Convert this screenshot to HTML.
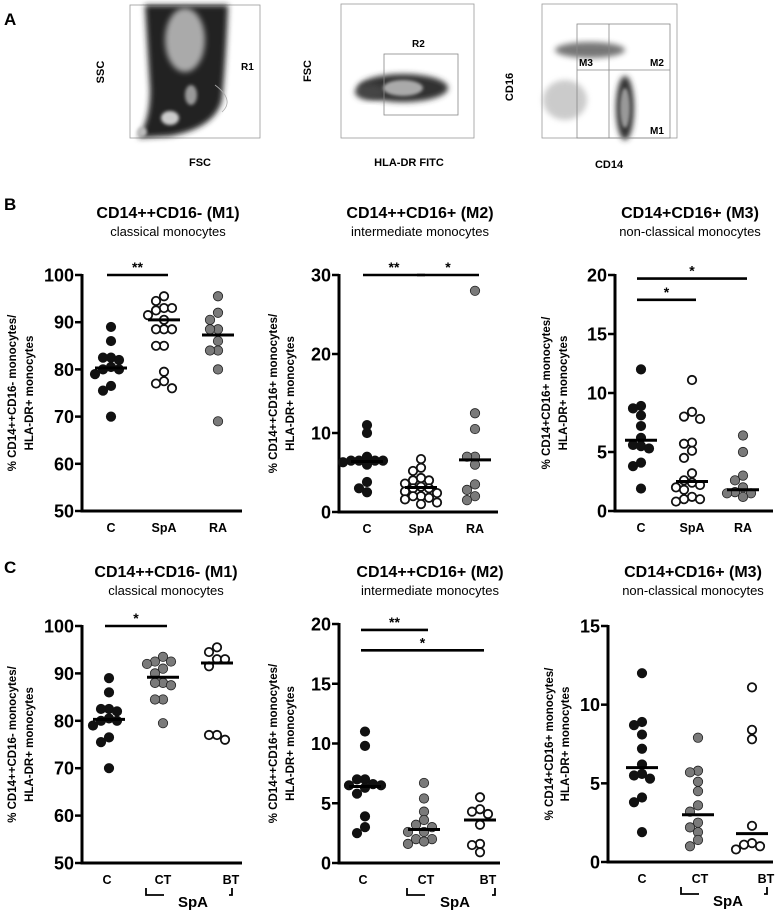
<!DOCTYPE html>
<html><head><meta charset="utf-8"><style>
html,body{margin:0;padding:0;background:#fff;}
svg{display:block;font-family:"Liberation Sans",Arial,sans-serif;}
</style></head><body>
<svg id="fig" width="778" height="910" viewBox="0 0 778 910" xmlns="http://www.w3.org/2000/svg">
<defs>
<filter id="bl" x="-30%" y="-30%" width="160%" height="160%"><feGaussianBlur stdDeviation="3"/></filter>
<filter id="bl2" x="-30%" y="-30%" width="160%" height="160%"><feGaussianBlur stdDeviation="1.5"/></filter>
</defs>
<g>
<text x="4" y="25" font-size="17" font-weight="bold">A</text>
<g>
<rect x="130" y="5" width="130" height="133" fill="none" stroke="#999" stroke-width="0.8"/>
<path d="M138 138 Q150 120 150 90 L145 5 L228 5 Q226 60 222 100 Q215 128 170 136 Z" fill="#222" filter="url(#bl)"/>
<ellipse cx="185" cy="40" rx="20" ry="32" fill="#aaa" filter="url(#bl)"/>
<ellipse cx="170" cy="118" rx="9" ry="7" fill="#ccc" filter="url(#bl2)"/>
<ellipse cx="191" cy="95" rx="6" ry="10" fill="#999" filter="url(#bl2)"/>
<ellipse cx="142" cy="132" rx="5" ry="5" fill="#bbb" filter="url(#bl2)"/>
<path d="M215 85 Q235 100 222 112" fill="none" stroke="#aaa" stroke-width="0.8"/>
<text x="241" y="70" font-size="10" font-weight="bold">R1</text>
<text x="200" y="166" font-size="11" font-weight="bold" text-anchor="middle">FSC</text>
<text transform="translate(104,72) rotate(-90)" font-size="11" font-weight="bold" text-anchor="middle">SSC</text>
</g>
<g>
<rect x="341" y="4" width="133" height="134" fill="none" stroke="#999" stroke-width="0.8"/>
<ellipse cx="403" cy="88" rx="45" ry="14" fill="#333" filter="url(#bl)"/>
<ellipse cx="370" cy="92" rx="15" ry="8" fill="#444" filter="url(#bl)"/>
<ellipse cx="403" cy="88" rx="20" ry="8" fill="#aaa" filter="url(#bl2)"/>
<rect x="384" y="54" width="74" height="61" fill="none" stroke="#888" stroke-width="0.8"/>
<text x="412" y="47" font-size="10" font-weight="bold">R2</text>
<text x="409" y="166" font-size="11" font-weight="bold" text-anchor="middle">HLA-DR FITC</text>
<text transform="translate(311,71) rotate(-90)" font-size="11" font-weight="bold" text-anchor="middle">FSC</text>
</g>
<g>
<rect x="542" y="4" width="135" height="134" fill="none" stroke="#999" stroke-width="0.8"/>
<ellipse cx="590" cy="50" rx="35" ry="8" fill="#555" filter="url(#bl)" opacity="0.8"/>
<ellipse cx="625" cy="108" rx="9" ry="32" fill="#333" filter="url(#bl)"/>
<ellipse cx="625" cy="108" rx="5" ry="20" fill="#999" filter="url(#bl2)"/>
<ellipse cx="565" cy="100" rx="22" ry="20" fill="#999" filter="url(#bl)" opacity="0.5"/>
<rect x="577" y="24" width="93" height="114" fill="none" stroke="#888" stroke-width="0.8"/>
<line x1="609" y1="24" x2="609" y2="138" stroke="#888" stroke-width="0.8"/>
<line x1="577" y1="70" x2="670" y2="70" stroke="#888" stroke-width="0.8"/>
<text x="579" y="66" font-size="10" font-weight="bold">M3</text>
<text x="650" y="66" font-size="10" font-weight="bold">M2</text>
<text x="650" y="134" font-size="10" font-weight="bold">M1</text>
<text x="609" y="168" font-size="11" font-weight="bold" text-anchor="middle">CD14</text>
<text transform="translate(513,87) rotate(-90)" font-size="11" font-weight="bold" text-anchor="middle">CD16</text>
</g>
</g>
<text x="4" y="210" font-size="17" font-weight="bold">B</text>
<text x="4" y="573" font-size="17" font-weight="bold">C</text>
<g id="charts"></g>
</svg>
<script>
const catsB = ["C", "SpA", "RA"];
const catsC = ["C", "CT", "BT"];
const b1C = [89, 86, 82.5, 82, 82.5, 80.5, 80, 80, 79, 76.5, 75.5, 70];
const b1SpA = [95.5, 94.5, 93, 93, 92.5, 91.5, 90.5, 88.5, 88.5, 88.5, 85, 85, 79.5, 77.5, 76, 77];
const b1RA = [95.5, 92, 90.5, 88.5, 88.5, 86, 84, 84, 80, 69];
const b1Med = [80.3, 90.5, 87.3];
const b2C = [11, 10, 7, 6.5, 6.5, 6.5, 6.3, 6.5, 6, 3.8, 3, 2.5];
const b2SpA = [6.7, 5.6, 5.2, 4.3, 4, 4, 3.6, 3.2, 3, 3, 2.6, 2.4, 2, 2, 1.8, 1.6, 1.2, 1];
const b2RA = [28, 12.5, 10.5, 7, 7, 6, 3.5, 2.8, 1.5, 2];
const b2Med = [6.4, 3.1, 6.6];
const b3C = [12, 8.9, 8.7, 8.1, 7.2, 6.2, 5.6, 5.5, 5.3, 4.1, 3.8, 1.9];
const b3SpA = [11.1, 8.4, 8, 7.8, 5.8, 5.7, 5.1, 4.5, 3.2, 2.6, 2.4, 2.2, 2, 1.8, 1.2, 1, 1, 0.8];
const b3RA = [6.4, 5, 3, 2.6, 2, 1.6, 1.5, 1.5, 1.2];
const b3Med = [6, 2.5, 1.8];
const c1CT = [93.5, 92.5, 92.5, 92, 91, 90, 88, 88, 87.5, 84.5, 84.5, 79.5];
const c1BT = [95.5, 94.5, 93, 93, 91.5, 77, 76, 77];
const c1Med = [80.3, 89.2, 92.2];
const c2C = [11, 9.8, 7, 7, 6.6, 6.5, 6.5, 6.3, 5.8, 3.9, 3, 2.5];
const c2CT = [6.7, 5.4, 4.3, 3.6, 3.2, 3, 2.6, 2.6, 2, 2, 1.8, 1.6];
const c2BT = [5.5, 4.5, 4.3, 4.1, 3.2, 1.6, 1.5, 0.9];
const c2Med = [6.4, 2.8, 3.6];
const c3CT = [7.9, 5.8, 5.7, 5.1, 4.5, 3.6, 3.2, 2.5, 2.2, 1.9, 1.4, 1];
const c3BT = [11.1, 8.4, 7.8, 2.3, 1.2, 1, 0.8, 1.1];
const c3Med = [6, 3, 1.8];
const ticksM1 = [50, 60, 70, 80, 90, 100];
const ticksB2 = [0, 10, 20, 30];
const ticksB3 = [0, 5, 10, 15, 20];
const ticksC2 = [0, 5, 10, 15, 20];
const ticksC3 = [0, 5, 10, 15];

const NS = "http://www.w3.org/2000/svg";
const root = document.getElementById("charts");
function el(tag, attrs, parent) {
  const e = document.createElementNS(NS, tag);
  for (const k in attrs) e.setAttribute(k, attrs[k]);
  (parent || root).appendChild(e);
  return e;
}
const fills = {black: ["#111", "#111"], open: ["#fff", "#111"], gray: ["#7a7a7a", "#222"]};

function chart(cfg) {
  const g = el("g", {});
  
  
  const yMin = cfg.ticks[0], yMax = cfg.ticks[cfg.ticks.length - 1];
  const ys = v => cfg.yBot - (v - yMin) / (yMax - yMin) * (cfg.yBot - cfg.yTop);
  const xs = i => cfg.gx[i];
  const t = el("text", {x: cfg.tx, y: cfg.ty, "font-size": 16, "font-weight": "bold", "text-anchor": "middle"}, g);
  t.textContent = cfg.title;
  
  
  const st = el("text", {x: cfg.tx, y: cfg.ty + 18, "font-size": 13, "text-anchor": "middle"}, g);
  st.textContent = cfg.sub;
  
  
  cfg.ylab.forEach((line, k) => {
    const yt = el("text", {transform: `translate(${cfg.ylx[k]},${(cfg.yTop + cfg.yBot) / 2}) rotate(-90)`, "font-size": 11.5, "font-weight": "bold", "text-anchor": "middle"}, g);
    yt.textContent = line;
    
    
  });
  const ya = el("line", {x1: cfg.ax, y1: cfg.yTop - 1, x2: cfg.ax, y2: cfg.yBot + 1.5, stroke: "#000", "stroke-width": 3}, g);
  
  
  const xa = el("line", {x1: cfg.ax - 1.5, y1: cfg.yBot, x2: cfg.xEnd, y2: cfg.yBot, stroke: "#000", "stroke-width": 3}, g);
  
  
  cfg.ticks.forEach(v => {
    el("line", {x1: cfg.ax - 7, y1: ys(v), x2: cfg.ax, y2: ys(v), stroke: "#000", "stroke-width": 2.5}, g);
    const tl = el("text", {x: cfg.ax - 8, y: ys(v) + 6.5, "font-size": 18, "font-weight": "bold", "text-anchor": "end"}, g);
    tl.textContent = v;
    
    
  });
  cfg.cats.forEach((c, i) => {
    const xl = el("text", {x: xs(i) + (cfg.labDx ? cfg.labDx[i] : 0), y: cfg.yBot + 21, "font-size": 12.5, "font-weight": "bold", "text-anchor": "middle"}, g);
    xl.textContent = c;
    
    
  });
  if (cfg.bracket) {
    const bx1 = xs(1) - 17, bx2 = xs(2) + 15, by = cfg.yBot + 32;
    el("path", {d: `M${bx1} ${by - 7} L${bx1} ${by} L${bx1 + 18} ${by}`, fill: "none", stroke: "#000", "stroke-width": 1.8}, g);
    el("path", {d: `M${bx2} ${by - 7} L${bx2} ${by} L${bx2 - 3} ${by}`, fill: "none", stroke: "#000", "stroke-width": 1.8}, g);
    const sp = el("text", {x: (xs(1) + xs(2)) / 2 + 3, y: by + 12, "font-size": 15, "font-weight": "bold", "text-anchor": "middle"}, g);
    sp.textContent = "SpA";
    
    
  }
  cfg.series.forEach((vals, i) => {
    const placed = [];
    const order = vals.slice().sort((a, b) => b - a);
    const offs = [0, -8, 8, -16, 16, -24, 24, -32, 32];
    order.forEach(v => {
      const y = ys(v);
      let dx = 0;
      for (const o of offs) {
        if (placed.every(p => Math.hypot(p[0] - o, p[1] - y) >= 7.6)) { dx = o; break; }
      }
      placed.push([dx, y]);
      const f = fills[cfg.styles[i]];
      const c = el("circle", {cx: xs(i) + dx, cy: y, r: cfg.styles[i] === "open" ? 4.2 : 4.7, fill: f[0], stroke: f[1], "stroke-width": cfg.styles[i] === "open" ? 1.8 : 0.8}, g);
      
      
    });
  });
  cfg.med.forEach((m, i) => {
    const ml = el("line", {x1: xs(i) - 16, y1: ys(m), x2: xs(i) + 16, y2: ys(m), stroke: "#000", "stroke-width": 3}, g);
    
    
  });
  (cfg.sig || []).forEach(s => {
    const x1 = xs(s[0]) - 4, x2 = xs(s[1]) + 4, y = ys(s[2]);
    const sl = el("line", {x1, y1: y, x2, y2: y, stroke: "#000", "stroke-width": 2.6}, g);
    
    
    const stx = el("text", {x: (x1 + x2) / 2, y: y - 3, "font-size": 14, "font-weight": "bold", "text-anchor": "middle"}, g);
    stx.textContent = s[3];
    
    
  });
}

const ylM1 = ["% CD14++CD16- monocytes/", "HLA-DR+ monocytes"];
const ylM2 = ["% CD14++CD16+ monocytes/", "HLA-DR+ monocytes"];
const ylM3 = ["% CD14+CD16+ monocytes/", "HLA-DR+ monocytes"];

chart({name: "chart-b-m1", title: "CD14++CD16- (M1)", sub: "classical monocytes", tx: 168, ty: 218, cats: catsB,
  ax: 82, xEnd: 242, yTop: 275, yBot: 511, gx: [111, 164, 218], ticks: ticksM1, ylab: ylM1, ylx: [16, 33],
  series: [b1C, b1SpA, b1RA], styles: ["black", "open", "gray"], med: b1Med, sig: [[0, 1, 100, "**"]]});
chart({name: "chart-b-m2", title: "CD14++CD16+ (M2)", sub: "intermediate monocytes", tx: 420, ty: 218, cats: catsB,
  ax: 339, xEnd: 498, yTop: 275, yBot: 512, gx: [367, 421, 475], ticks: ticksB2, ylab: ylM2, ylx: [277, 294],
  series: [b2C, b2SpA, b2RA], styles: ["black", "open", "gray"], med: b2Med, sig: [[0, 1, 30, "**"], [1, 2, 30, "*"]]});
chart({name: "chart-b-m3", title: "CD14+CD16+ (M3)", sub: "non-classical monocytes", tx: 690, ty: 218, cats: catsB,
  ax: 615, xEnd: 773, yTop: 275, yBot: 511, gx: [641, 692, 743], ticks: ticksB3, ylab: ylM3, ylx: [550, 567],
  series: [b3C, b3SpA, b3RA], styles: ["black", "open", "gray"], med: b3Med, sig: [[0, 2, 19.7, "*"], [0, 1, 17.9, "*"]]});
chart({name: "chart-c-m1", title: "CD14++CD16- (M1)", sub: "classical monocytes", tx: 166, ty: 577, cats: catsC,
  ax: 82, xEnd: 242, yTop: 626, yBot: 863, gx: [109, 163, 217], labDx: [-2, 0, 14], ticks: ticksM1, ylab: ylM1, ylx: [16, 33],
  series: [b1C, c1CT, c1BT], styles: ["black", "gray", "open"], med: c1Med, bracket: true, sig: [[0, 1, 100, "*"]]});
chart({name: "chart-c-m2", title: "CD14++CD16+ (M2)", sub: "intermediate monocytes", tx: 430, ty: 577, cats: catsC,
  ax: 339, xEnd: 500, yTop: 624, yBot: 863, gx: [365, 424, 480], labDx: [-2, 2, 8], ticks: ticksC2, ylab: ylM2, ylx: [277, 294],
  series: [c2C, c2CT, c2BT], styles: ["black", "gray", "open"], med: c2Med, bracket: true, sig: [[0, 1, 19.5, "**"], [0, 2, 17.8, "*"]]});
chart({name: "chart-c-m3", title: "CD14+CD16+ (M3)", sub: "non-classical monocytes", tx: 693, ty: 577, cats: catsC,
  ax: 608, xEnd: 773, yTop: 626, yBot: 862, gx: [642, 698, 752], labDx: [0, 2, 14], ticks: ticksC3, ylab: ylM3, ylx: [553, 569],
  series: [b3C, c3CT, c3BT], styles: ["black", "gray", "open"], med: c3Med, bracket: true});
</script>
</body></html>
